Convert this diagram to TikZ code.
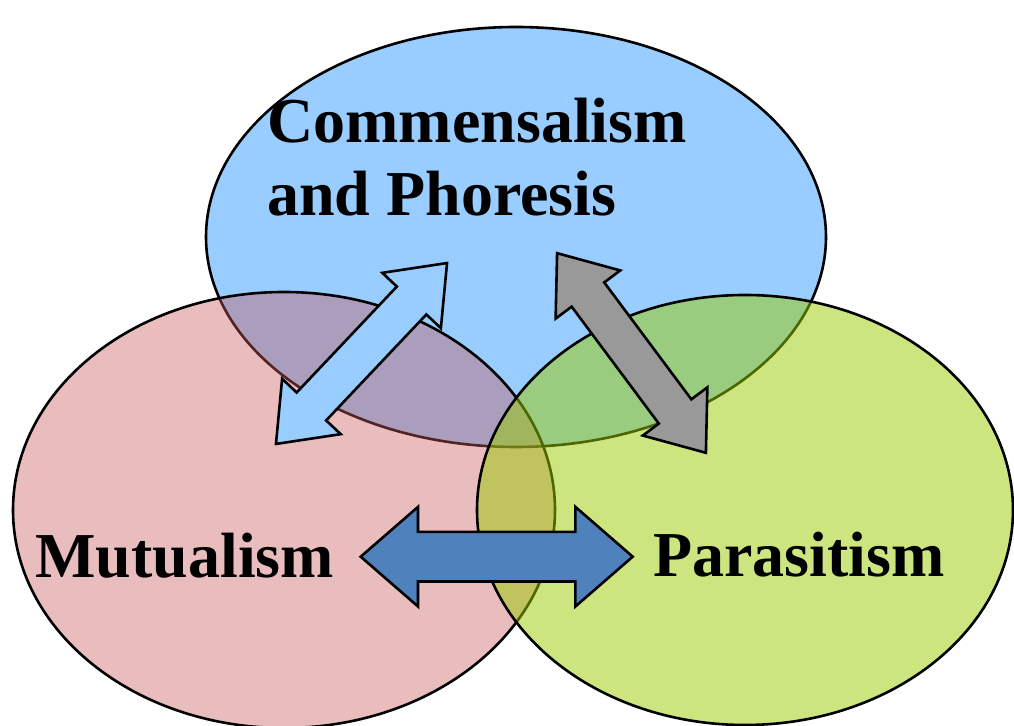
\documentclass[tikz,border=0pt]{standalone}
\usepackage{fontspec}
\setmainfont{Liberation Serif}
\usetikzlibrary{shapes.geometric,shapes.arrows}
\definecolor{skyfill}{RGB}{153,204,255}
\definecolor{rosefill}{RGB}{200,90,90}
\definecolor{limefill}{RGB}{153,204,0}
\definecolor{steelfill}{RGB}{79,129,189}
\definecolor{greyfill}{RGB}{153,153,153}
\begin{document}
\begin{tikzpicture}[x=0.5pt,y=-0.5pt,
	venn/.style={ellipse,draw=black,line width=1.3pt,inner sep=0pt},
	setname/.style={font=\fontsize{32}{36.5}\selectfont\bfseries,inner sep=0pt,align=left,anchor=base west},
	darrow/.style={double arrow,draw=black,line width=1.3pt,inner xsep=0pt,inner ysep=9.5pt,
		double arrow head extend=10pt,double arrow tip angle=76,minimum height=124.5pt}]
	\useasboundingbox (0,0) rectangle (1014,726);
	\node[venn,fill=skyfill,minimum width=310pt,minimum height=210pt] (comm) at (516,237) {};
	\node[venn,fill=rosefill,fill opacity=0.4,minimum width=271pt,minimum height=218pt] (mutu) at (284,510) {};
	\node[venn,fill=limefill,fill opacity=0.5,minimum width=268pt,minimum height=215pt] (para) at (745,510) {};
	\node[setname] (comm-t) at (267,216) {Commensalism\\and Phoresis};
	\node[setname] (mutu-t) at (35,578) {Mutualism};
	\node[setname] (para-t) at (653,577) {Parasitism};
	\node[darrow,fill=skyfill,rotate=46.6] (cm-arr) at (361.5,353.5) {};
	\node[darrow,fill=greyfill,rotate=-53.3] (cp-arr) at (631.5,353) {};
	\node[darrow,fill=steelfill,minimum height=136pt,inner ysep=11.75pt,
		double arrow head extend=12.5pt,double arrow tip angle=82] (mp-arr) at (496.7,556.7) {};
\end{tikzpicture}
\end{document}
